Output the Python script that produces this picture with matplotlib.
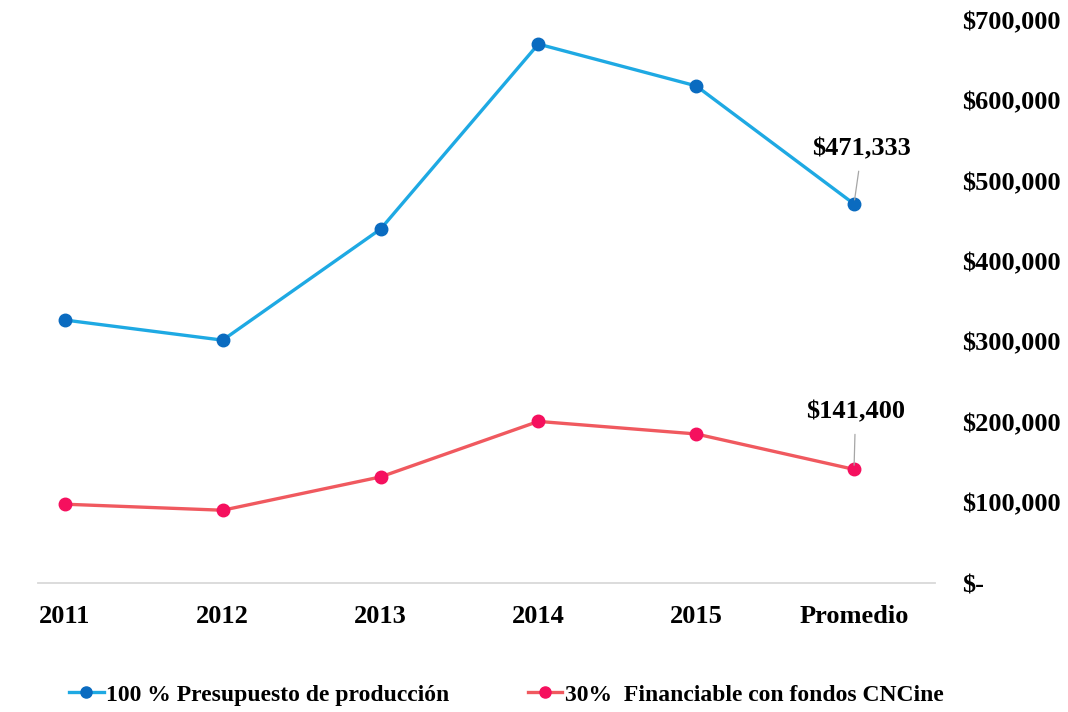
import matplotlib.pyplot as plt
from matplotlib.ticker import FuncFormatter
from matplotlib.lines import Line2D

# data
categories = ['2011', '2012', '2013', '2014', '2015', 'Promedio']
presupuesto = [327000, 302000, 440000, 670000, 618000, 471333]
financiable = [98100, 90600, 132000, 201000, 185400, 141400]
y_ticks = [0, 100000, 200000, 300000, 400000, 500000, 600000, 700000]

plt.rcParams['font.family'] = ['Liberation Serif', 'DejaVu Serif']
plt.rcParams['font.weight'] = 'bold'

blue_line, blue_mark = '#1EA9E3', '#0A6BC0'
red_line, red_mark = '#F0595F', '#F5105E'

fig = plt.figure(figsize=(10.68, 7.12), dpi=100)
ax = fig.add_axes([0.0356, 0.181, 0.8394, 0.791])

x = list(range(len(categories)))
ax.plot(x, presupuesto, color=blue_line, lw=2.4, marker='o', ms=9,
        mfc=blue_mark, mec=blue_mark, zorder=3)
ax.plot(x, financiable, color=red_line, lw=2.4, marker='o', ms=9,
        mfc=red_mark, mec=red_mark, zorder=3)

# labels on the last point
ax.annotate('$471,333', xy=(x[-1], presupuesto[-1]), xytext=(x[-1] + 0.05, 540000),
            ha='center', va='center', fontsize=19, fontweight='bold',
            arrowprops=dict(arrowstyle='-', color='#A6A6A6', lw=0.9,
                            shrinkA=6, shrinkB=3))
ax.annotate('$141,400', xy=(x[-1], financiable[-1]), xytext=(x[-1] + 0.01, 213000),
            ha='center', va='center', fontsize=19, fontweight='bold',
            arrowprops=dict(arrowstyle='-', color='#A6A6A6', lw=0.9,
                            shrinkA=6, shrinkB=3))

ax.set_xlim(-0.17, 5.51)
ax.set_ylim(0, 700000)
ax.set_xticks(x)
ax.set_xticklabels(categories, fontsize=19, fontweight='bold')
ax.set_yticks(y_ticks)
ax.yaxis.tick_right()
ax.yaxis.set_major_formatter(FuncFormatter(lambda v, p: '$-' if v == 0 else f'${v:,.0f}'))
for lbl in ax.get_yticklabels():
    lbl.set_fontsize(19)
    lbl.set_fontweight('bold')
    lbl.set_horizontalalignment('left')
ax.tick_params(axis='x', length=0, pad=16)
ax.tick_params(axis='y', length=0, pad=19.5)

for s in ['top', 'left', 'right']:
    ax.spines[s].set_visible(False)
ax.spines['bottom'].set_color('#D9D9D9')
ax.spines['bottom'].set_linewidth(1.3)

handles = [
    Line2D([], [], color=blue_line, lw=2.4, marker='o', ms=8, mfc=blue_mark, mec=blue_mark),
    Line2D([], [], color=red_line, lw=2.4, marker='o', ms=8, mfc=red_mark, mec=red_mark),
]
fig.legend(handles, ['100 % Presupuesto de producción', '30%  Financiable con fondos CNCine'],
           loc='center left', bbox_to_anchor=(0.045, 0.024), ncol=2, frameon=False,
           prop={'size': 17, 'weight': 'bold'}, handlelength=1.45, handletextpad=0.12,
           columnspacing=3.3)

fig.savefig('out.png', dpi=100)
